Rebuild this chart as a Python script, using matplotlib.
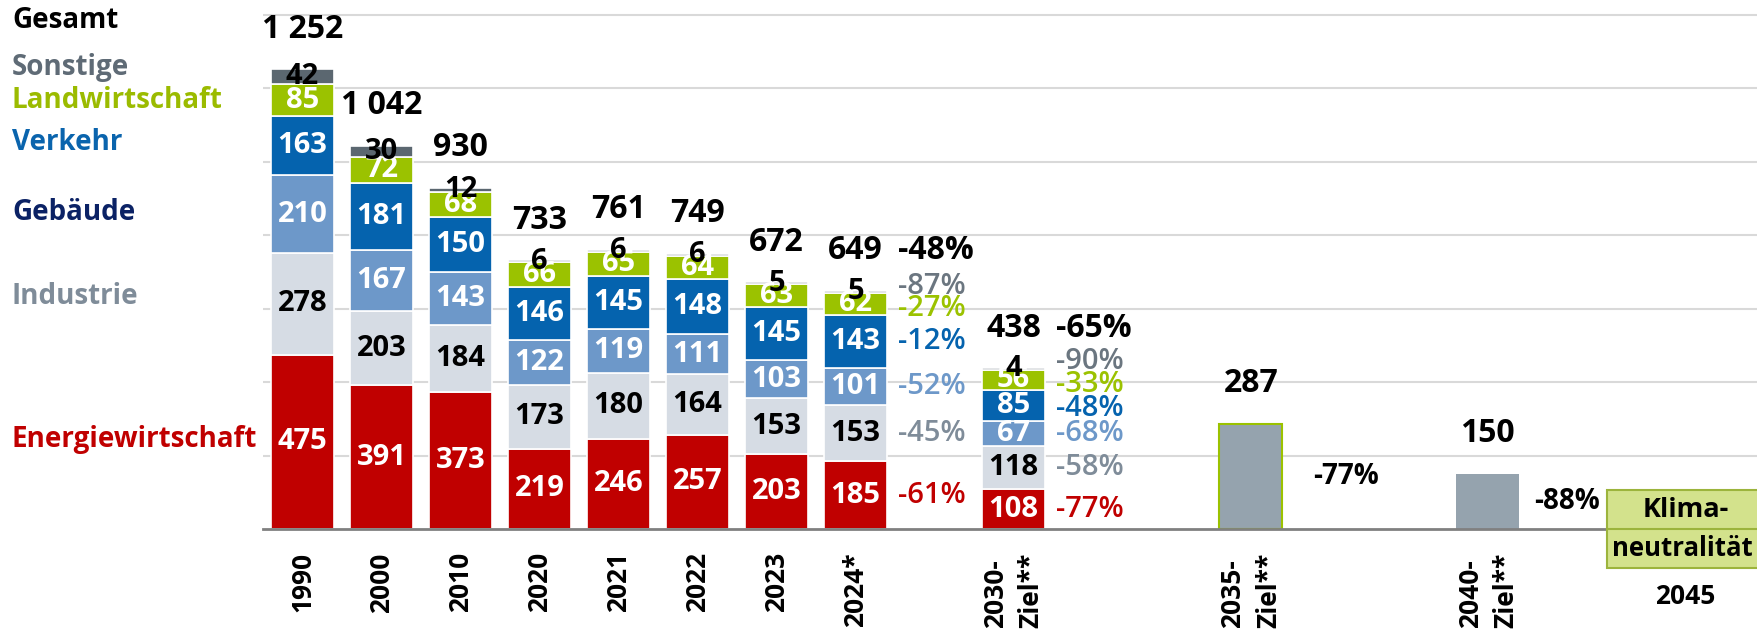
import numpy as np
import matplotlib.pyplot as plt
from matplotlib.patches import Rectangle

plt.rcParams['font.family'] = ['Open Sans', 'DejaVu Sans']

# Treibhausgasemissionen nach Sektoren in Mio. t CO2-Aeq.
jahre = ['1990', '2000', '2010', '2020', '2021', '2022', '2023', '2024*', '2030-\nZiel**']
x_jahre = [0, 1, 2, 3, 4, 5, 6, 7, 9]
energie = [475, 391, 373, 219, 246, 257, 203, 185, 108]
industrie = [278, 203, 184, 173, 180, 164, 153, 153, 118]
gebaeude = [210, 167, 143, 122, 119, 111, 103, 101, 67]
verkehr = [163, 181, 150, 146, 145, 148, 145, 143, 85]
landwirtschaft = [85, 72, 68, 66, 65, 64, 63, 62, 56]
sonstige = [42, 30, 12, 6, 6, 6, 5, 5, 4]
gesamt = [1252, 1042, 930, 733, 761, 749, 672, 649, 438]

ziel_jahre = ['2035-\nZiel**', '2040-\nZiel**']
x_ziel = [12, 15]
ziel_werte = [287, 150]
ziel_prozent = ['-77%', '-88%']

# Minderung gegenueber 1990
prozent_2024 = ['-61%', '-45%', '-52%', '-12%', '-27%', '-87%']
prozent_2030 = ['-77%', '-58%', '-68%', '-48%', '-33%', '-90%']
gesamt_prozent_2024 = '-48%'
gesamt_prozent_2030 = '-65%'

sektoren = ['Energiewirtschaft', 'Industrie', 'Gebäude', 'Verkehr', 'Landwirtschaft', 'Sonstige']
werte = [energie, industrie, gebaeude, verkehr, landwirtschaft, sonstige]
farben = ['#C00000', '#D6DCE4', '#6D98C9', '#0563AE', '#9BC200', '#5B6770']
wertfarben = ['white', 'black', 'white', 'white', 'white', 'black']
namensfarben = ['#C00000', '#7F8C99', '#0B2265', '#0A64AD', '#9BBB00', '#5F6B76']
prozentfarben = ['#C00000', '#7F8C99', '#6D98C9', '#0563AE', '#9BC200', '#6B7680']


def auseinander(ys, abstand):
    # Prozentwerte so verschieben, dass sie sich nicht ueberlappen
    ys = list(ys)
    for _ in range(100):
        bewegt = False
        for i in range(len(ys) - 1):
            d = ys[i + 1] - ys[i]
            if d < abstand - 0.01:
                s = (abstand - d) / 2
                ys[i] -= s
                ys[i + 1] += s
                bewegt = True
        if not bewegt:
            break
    return ys


fig = plt.figure(figsize=(17.58, 6.3), dpi=100)
ax = fig.add_axes([263 / 1758, 101 / 630, 1495 / 1758, 529 / 630])
ax.set_xlim(-0.5, 18.42)
ax.set_ylim(0, 1441)

breite = 0.8
unten = np.zeros(len(x_jahre))
mitten = []
for k in range(len(sektoren)):
    w = np.array(werte[k])
    bars = ax.bar(x_jahre, w, breite, bottom=unten, color=farben[k], edgecolor='white', linewidth=1.2, zorder=2)
    mitten.append(unten + w / 2)
    for i, b in enumerate(bars):
        t = ax.text(x_jahre[i], unten[i] + w[i] / 2, str(w[i]), ha='center', va='center',
                    fontsize=21, weight='bold', color=wertfarben[k], zorder=5)
        if k == 4:
            t.set_clip_path(b)
    unten = unten + w

# Gesamtwerte ueber den Saeulen
for i, g in enumerate(gesamt):
    ax.text(x_jahre[i], unten[i] + 109, '{:,}'.format(g).replace(',', ' '), ha='center', va='center',
            fontsize=23, weight='bold', color='black')

ax.text(7.53, unten[7] + 109, gesamt_prozent_2024, ha='left', va='center', fontsize=23, weight='bold')
ax.text(9.54, unten[8] + 109, gesamt_prozent_2030, ha='left', va='center', fontsize=23, weight='bold')

# Prozentwerte der Sektoren rechts neben 2024 und 2030
y24 = auseinander([m[7] for m in mitten], 60)
y30 = auseinander([m[8] for m in mitten], 63)
for k in range(len(sektoren)):
    ax.text(7.53, y24[k], prozent_2024[k], ha='left', va='center', fontsize=21, weight='semibold',
            color=prozentfarben[k])
    ax.text(9.54, y30[k], prozent_2030[k], ha='left', va='center', fontsize=21, weight='semibold',
            color=prozentfarben[k])

# Zielwerte 2035 und 2040
zb = ax.bar(x_ziel, ziel_werte, breite, color='#95A3AE', zorder=2)
zb[0].set_edgecolor('#9BC200')
zb[0].set_linewidth(1.5)
versatz = [0.79, 0.59]
for i, v in enumerate(ziel_werte):
    ax.text(x_ziel[i], v + 109, str(v), ha='center', va='center', fontsize=23, weight='bold')
    ax.text(x_ziel[i] + versatz[i], v / 2, ziel_prozent[i], ha='left', va='center', fontsize=20, weight='bold')

# Jahresbeschriftung
for x, j in zip(x_jahre + x_ziel, jahre + ziel_jahre):
    ax.text(x, -63, j, rotation=90, ha='center', va='top', multialignment='left',
            fontsize=19, weight='bold', linespacing=1.4)

# Klimaneutralitaet 2045
ax.add_patch(Rectangle((16.51, -106), 2.06, 212, facecolor='#D3E28C', edgecolor='#9CB43C',
                       linewidth=1.5, clip_on=False, zorder=3))
ax.plot([16.51, 18.57], [0, 0], color='#9CB43C', linewidth=1.5, clip_on=False, zorder=3)
ax.text(17.5, 52, 'Klima-', ha='center', va='center', fontsize=19.5, weight='bold', zorder=4)
ax.text(17.46, -52, 'neutralität', ha='center', va='center', fontsize=18.5, weight='bold', zorder=4)
ax.text(17.5, -185, '2045', ha='center', va='center', fontsize=19, weight='bold')

# Sektornamen links
fig.text(12 / 1758, 1 - 21 / 630, 'Gesamt', ha='left', va='center', fontsize=20, weight='bold', color='black')
namen_y = [440, 296, 212, 143, 100, 67]
for k in range(len(sektoren)):
    fig.text(12 / 1758, 1 - namen_y[k] / 630, sektoren[k], ha='left', va='center', fontsize=20,
             weight='bold', color=namensfarben[k])

ax.set_yticks(range(200, 1401, 200))
ax.yaxis.grid(True, color='#D9D9D9', linewidth=1.5)
ax.set_axisbelow(True)
ax.set_xticks([])
ax.tick_params(left=False, labelleft=False)
for s in ['left', 'right', 'top']:
    ax.spines[s].set_visible(False)
ax.spines['bottom'].set_color('#808080')
ax.spines['bottom'].set_linewidth(2)

plt.savefig('out.png', dpi=100)
plt.close(fig)
